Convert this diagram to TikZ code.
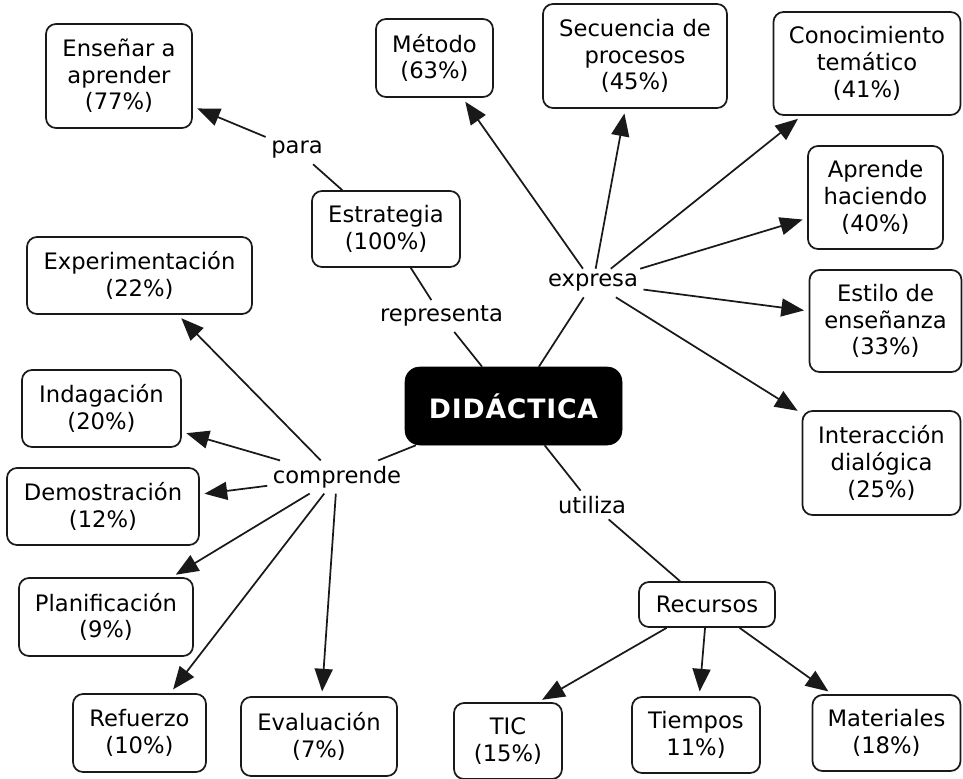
\documentclass[tikz,border=0pt]{standalone}
\usepackage{fontspec}
\setmainfont{DejaVu Sans}
\usetikzlibrary{arrows.meta}
\begin{document}
\begin{tikzpicture}[x=0.75pt,y=-0.75pt,
  concept/.style={draw=black!90, line width=1.3pt, rounded corners=7.5pt, align=center,
    inner sep=1pt, font=\fontsize{17}{20}\selectfont, text=black, fill=white},
  mainconcept/.style={fill=black, draw=black, rounded corners=11pt, text=white,
    font=\fontsize{20}{24}\selectfont\bfseries\addfontfeatures{LetterSpace=3.0}, inner sep=1pt},
  linklabel/.style={inner sep=4pt, font=\fontsize{17}{20}\selectfont, text=black},
  conn/.style={line width=1.3pt, draw=black!90},
  arr/.style={conn, -{Triangle[length=17pt,width=13.5pt]}, shorten >=3.5pt},
]
\useasboundingbox (0,0) rectangle (963,778);

% central concept
\node[mainconcept, minimum width=162.75pt, minimum height=58.5pt] (didactica) at (513.5,406) {DIDÁCTICA};

% concepts
\node[concept, minimum width=109.5pt, minimum height=78pt] (ensenar) at (119,76) {Enseñar a\\aprender\\(77\%)};
\node[concept, minimum width=87.75pt, minimum height=58.5pt] (metodo) at (434.5,58) {Método\\(63\%)};
\node[concept, minimum width=138pt, minimum height=78pt] (secuencia) at (635,56) {Secuencia de\\procesos\\(45\%)};
\node[concept, minimum width=140.25pt, minimum height=77.25pt] (conocimiento) at (867,63.5) {Conocimiento\\temático\\(41\%)};
\node[concept, minimum width=101.25pt, minimum height=77.25pt] (aprende) at (875.5,197.5) {Aprende\\haciendo\\(40\%)};
\node[concept, minimum width=114pt, minimum height=76.5pt] (estilo) at (885.5,321) {Estilo de\\enseñanza\\(33\%)};
\node[concept, minimum width=118.5pt, minimum height=78pt] (interaccion) at (881.5,463) {Interacción\\dialógica\\(25\%)};
\node[concept, minimum width=111pt, minimum height=57pt] (estrategia) at (386,229) {Estrategia\\(100\%)};
\node[concept, minimum width=168.75pt, minimum height=57.75pt] (experimentacion) at (139.5,275.5) {Experimentación\\(22\%)};
\node[concept, minimum width=119.25pt, minimum height=57.75pt] (indagacion) at (101.5,408.5) {Indagación\\(20\%)};
\node[concept, minimum width=144pt, minimum height=57.75pt] (demostracion) at (103,506.5) {Demostración\\(12\%)};
\node[concept, minimum width=130.5pt, minimum height=58.5pt] (planificacion) at (106,617) {Planificación\\(9\%)};
\node[concept, minimum width=99.75pt, minimum height=58.5pt] (refuerzo) at (139.5,733) {Refuerzo\\(10\%)};
\node[concept, minimum width=117pt, minimum height=59.25pt] (evaluacion) at (319,736.5) {Evaluación\\(7\%)};
\node[concept, minimum width=102pt, minimum height=33.75pt] (recursos) at (707,604.5) {Recursos};
\node[concept, minimum width=81pt, minimum height=57pt] (tic) at (508,741) {TIC\\(15\%)};
\node[concept, minimum width=96pt, minimum height=57pt] (tiempos) at (696,735) {Tiempos\\11\%)};
\node[concept, minimum width=111pt, minimum height=57pt] (materiales) at (886.5,733) {Materiales\\(18\%)};

% linking phrases
\node[linklabel] (para) at (297,150) {para};
\node[linklabel] (representa) at (441.5,316) {representa};
\node[linklabel] (expresa) at (593,283) {expresa};
\node[linklabel] (comprende) at (337,477) {comprende};
\node[linklabel] (utiliza) at (592,505) {utiliza};

% connections
\draw[conn] (estrategia) -- (para);
\draw[arr] (para) -- (ensenar);
\draw[conn] (estrategia) -- (representa);
\draw[conn] (representa) -- (didactica);

\draw[conn] (didactica) -- (expresa);
\draw[arr] (expresa) -- (metodo);
\draw[arr] (expresa) -- (secuencia);
\draw[arr] (expresa) -- (conocimiento);
\draw[arr] (expresa) -- (aprende);
\draw[arr] (expresa) -- (estilo);
\draw[arr] (expresa) -- (interaccion);

\draw[conn] (didactica) -- (comprende);
\draw[arr] (comprende) -- (experimentacion);
\draw[arr] (comprende) -- (indagacion);
\draw[arr] (comprende) -- (demostracion);
\draw[arr] (comprende) -- (planificacion);
\draw[arr] (comprende) -- (refuerzo);
\draw[arr] (comprende) -- (evaluacion);

\draw[conn] (didactica) -- (utiliza);
\draw[conn] (utiliza) -- (recursos);
\draw[arr] (recursos) -- ([xshift=22.5pt]tic.north);
\draw[arr] (recursos) -- (tiempos);
\draw[arr] (recursos) -- (materiales);
\end{tikzpicture}
\end{document}
